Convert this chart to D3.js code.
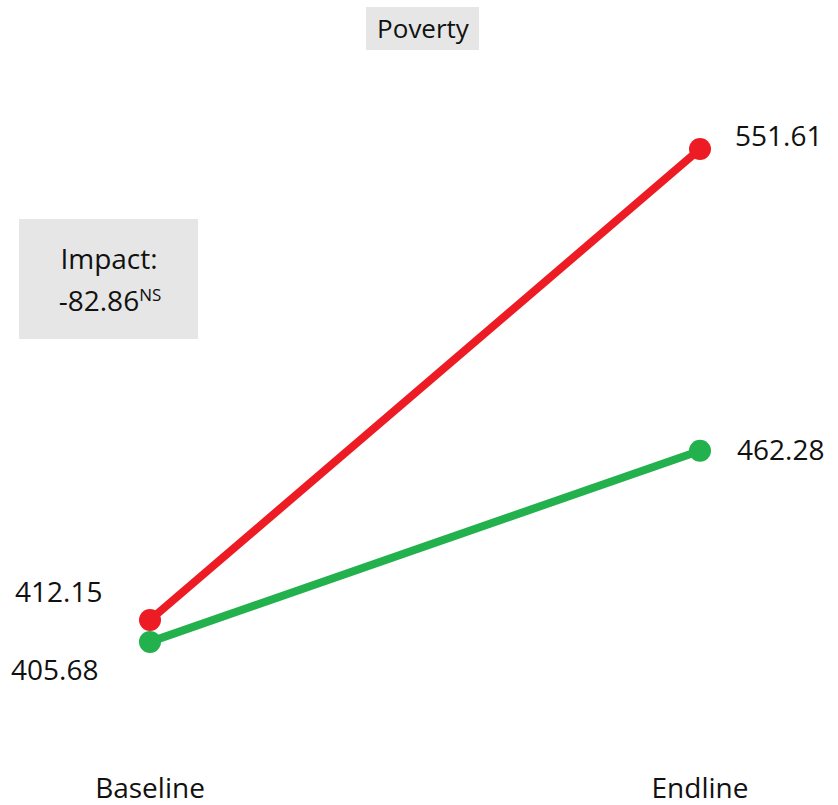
<!DOCTYPE html>
<html>
<head>
<meta charset="utf-8">
<script src="https://cdn.jsdelivr.net/npm/d3@7"></script>
<style>
  html, body { margin: 0; padding: 0; background: #fff; }
  svg { display: block; font-family: "Open Sans", sans-serif; }
</style>
</head>
<body>
<svg id="chart" width="838" height="805"></svg>
<script>
// Survey rounds and the two groups' mean values
const periods = ["Baseline", "Endline"];
const treatment = [405.68, 462.28];
const control = [412.15, 551.61];
const seriesNames = ["Control", "Treatment"];
const seriesColors = ["#ED1C24", "#22B14C"];
const title = "Poverty";
const impactLabel = "Impact:";
const impactValue = "-82.86";
const impactSig = "NS";

const svg = d3.select("#chart");

const x = d3.scalePoint().domain(periods).range([150, 700]);
const y = d3.scaleLinear().domain([380, 580]).range([728.6, 53.2]);

const series = [
  { name: seriesNames[0], values: control, color: seriesColors[0] },
  { name: seriesNames[1], values: treatment, color: seriesColors[1] }
];

const line = d3.line()
  .x((d, i) => x(periods[i]))
  .y(d => y(d));

// Title box
const tg = svg.append("g");
tg.append("rect").attr("x", 366).attr("y", 7).attr("width", 113).attr("height", 43).attr("fill", "#E6E6E6");
tg.append("text").attr("x", 423).attr("y", 38).attr("text-anchor", "middle")
  .attr("font-size", 26).attr("fill", "#111").text(title);

// Impact box
const ig = svg.append("g");
ig.append("rect").attr("x", 19).attr("y", 219).attr("width", 179).attr("height", 120).attr("fill", "#E6E6E6");
ig.append("text").attr("x", 109).attr("y", 269).attr("text-anchor", "middle")
  .attr("font-size", 28).attr("fill", "#111").text(impactLabel);
const iv = ig.append("text").attr("x", 110).attr("y", 311).attr("text-anchor", "middle").attr("fill", "#111");
iv.append("tspan").attr("font-size", 28).text(impactValue);
iv.append("tspan").attr("font-size", 17).attr("dy", -10).text(impactSig);

// Lines and markers
series.forEach(s => {
  svg.append("path").datum(s.values)
    .attr("d", line)
    .attr("fill", "none")
    .attr("stroke", s.color)
    .attr("stroke-width", 8);
  svg.selectAll(null).data(s.values).enter().append("circle")
    .attr("cx", (d, i) => x(periods[i]))
    .attr("cy", d => y(d))
    .attr("r", 11)
    .attr("fill", s.color);
});

// Value labels
const fmt = d3.format(".2f");
const lbl = (txt, px, py, anchor) => svg.append("text")
  .attr("x", px).attr("y", py).attr("text-anchor", anchor)
  .attr("font-size", 28).attr("fill", "#111").text(txt);

lbl(fmt(control[0]), 15, y(control[0]) - 18, "start");
lbl(fmt(treatment[0]), 11, y(treatment[0]) + 38, "start");
lbl(fmt(control[1]), 735, y(control[1]) - 3, "start");
lbl(fmt(treatment[1]), 737, y(treatment[1]) + 9, "start");

// Period axis labels
svg.selectAll(".period").data(periods).enter().append("text")
  .attr("class", "period")
  .attr("x", d => x(d))
  .attr("y", 798)
  .attr("text-anchor", "middle")
  .attr("font-size", 28)
  .attr("fill", "#111")
  .text(d => d);
</script>
</body>
</html>
